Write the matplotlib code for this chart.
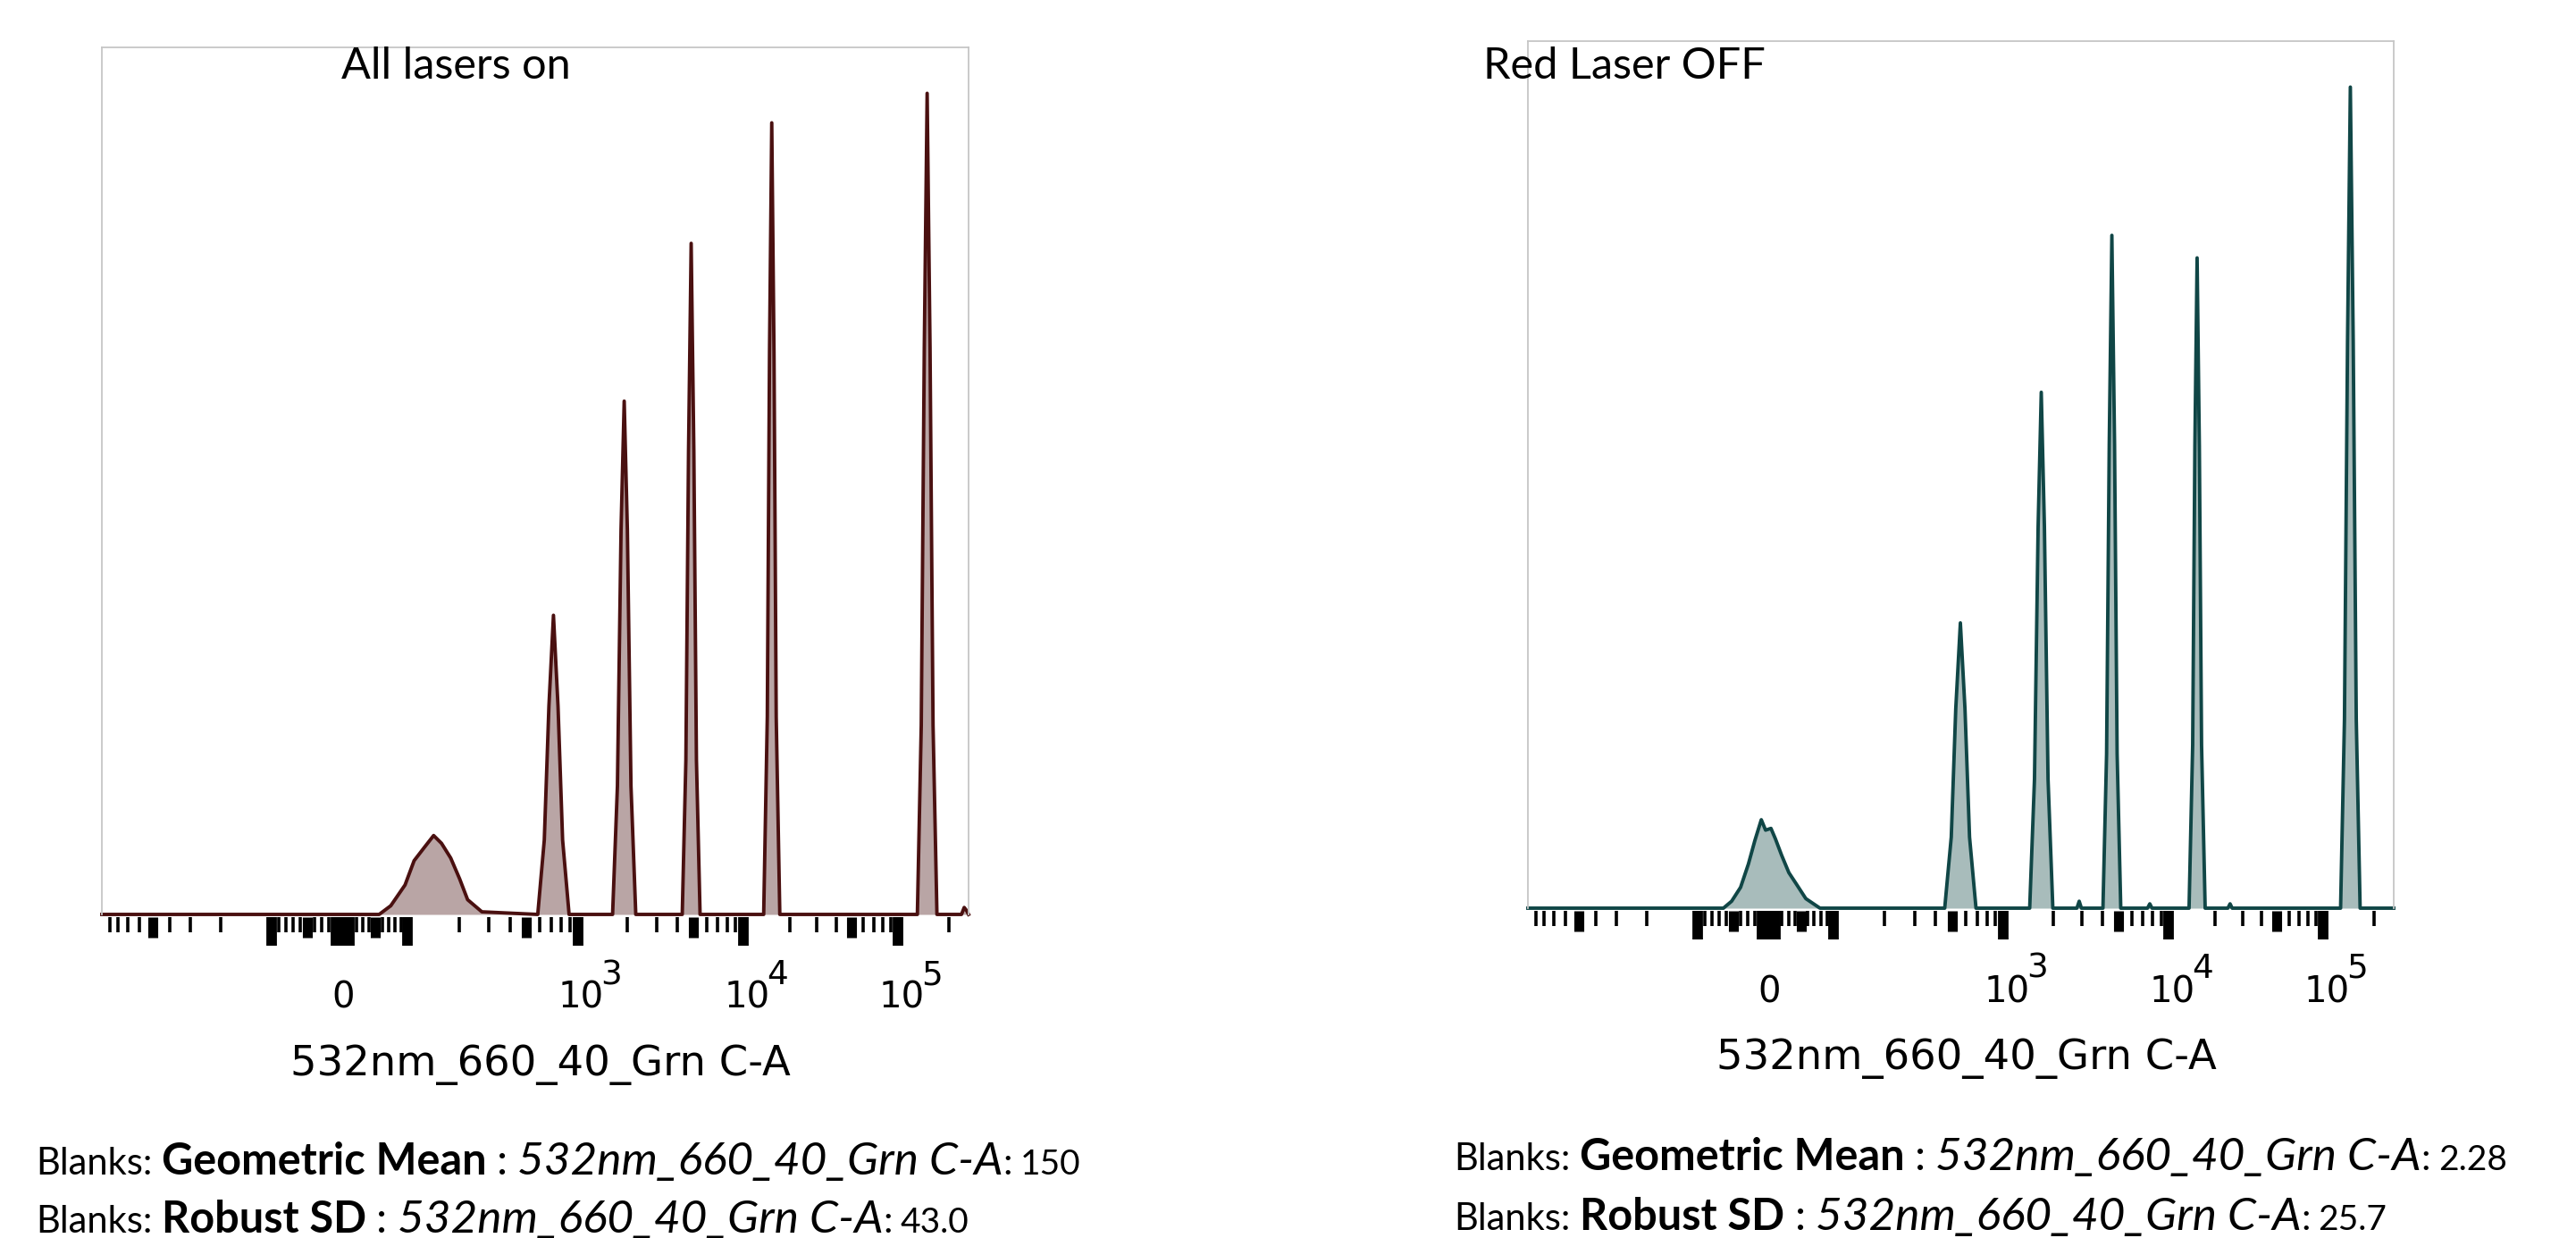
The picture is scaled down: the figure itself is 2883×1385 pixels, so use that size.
import numpy as np
import matplotlib
matplotlib.use("Agg")
import matplotlib.pyplot as plt
from matplotlib import transforms

# --- data ---
# histogram outlines: x in channel units, y in % of the plot height
left_peaks_x = [
    [55.6, 73.6, 95.8, 109, 126, 142, 158, 179, 202, 225, 273],       # blanks
    [582, 636, 677, 720, 766, 815, 890],
    [1625, 1738, 1828, 1910, 1996, 2099, 2244],
    [4283, 4506, 4675, 4850, 5034, 5219, 5490],
    [13570, 14320, 14800, 15300, 15820, 16350, 17250],
    [130400, 137500, 143300, 149000, 155000, 161500, 170300],
    [238000, 247000, 256000],
]
left_peaks_y = [
    [0, 1.0, 3.4, 6.2, 7.8, 9.1, 8.2, 6.5, 4.1, 1.7, 0.3],
    [0, 8.6, 24.0, 34.5, 24.0, 8.6, 0],
    [0, 14.8, 44.4, 59.2, 44.4, 14.8, 0],
    [0, 17.8, 53.4, 77.4, 53.4, 17.8, 0],
    [0, 22.8, 64.8, 91.3, 64.8, 22.8, 0],
    [0, 21.8, 65.3, 94.7, 65.3, 21.8, 0],
    [0, 0.8, 0.4],
]
right_peaks_x = [
    [-64, -52.5, -40, -29, -20, -11, -5, 2.8, 9.7, 19.4, 30.6, 43, 57, 71, 79],
    [452, 494, 525, 559, 595, 633, 691],
    [1445, 1545, 1625, 1698, 1774, 1866, 1995],
    [2790, 2880, 2970],
    [4009, 4218, 4377, 4540, 4713, 4885, 5139],
    [7460, 7700, 7940],
    [13570, 14320, 14800, 15300, 15820, 16350, 17250],
    [24200, 25000, 25800],
    [126900, 133800, 139500, 145000, 150800, 157200, 165700],
]
right_peaks_y = [
    [0, 0.8, 2.4, 5.1, 7.8, 10.2, 9.0, 9.2, 8.0, 6.1, 4.1, 2.7, 1.1, 0.4, 0],
    [0, 8.2, 23.0, 32.9, 23.0, 8.2, 0],
    [0, 14.9, 44.0, 59.5, 44.0, 14.9, 0],
    [0, 0.8, 0],
    [0, 17.8, 53.5, 77.6, 53.5, 17.8, 0],
    [0, 0.5, 0],
    [0, 18.8, 53.3, 75.0, 53.3, 18.8, 0],
    [0, 0.5, 0],
    [0, 21.8, 65.3, 94.7, 65.3, 21.8, 0],
]

x_min, x_max = -1000, 262144
label_values = [0, 1e3, 1e4, 1e5]
label_exps = [None, "3", "4", "5"]
xlabel = "532nm_660_40_Grn C-A"
titles = ["All lasers on", "Red Laser OFF"]
stat_param = "532nm_660_40_Grn C-A"
left_stats = ["150", "43.0"]
right_stats = ["2.28", "25.7"]

# --- logicle-like axis (linear near 0, log further out) ---
G_ANCH = np.array([-2, -1, 0, 1, 2, 3, 4, 1 + np.log10(2621.44)])
P_ANCH = np.array([115, 305, 385, 457, 647, 832, 1005, 1084], dtype=float)


def _g(x):
    x = np.asarray(x, dtype=float)
    a = np.maximum(np.abs(x), 1e-12)
    return np.where(a <= 100, x / 100, np.sign(x) * (1 + np.log10(a / 100)))


def _ginv(g):
    g = np.asarray(g, dtype=float)
    return np.where(np.abs(g) <= 1, g * 100,
                    np.sign(g) * 100 * 10 ** (np.abs(g) - 1))


def forward(x):
    return np.interp(_g(x), G_ANCH, P_ANCH)


def inverse(p):
    return _ginv(np.interp(p, P_ANCH, G_ANCH))


W, H = 2883, 1385
fig = plt.figure(figsize=(W / 100, H / 100), dpi=100)

calibri = ["Lato", "DejaVu Sans"]

ax_l = fig.add_axes([114 / W, (H - 1023) / H, 970 / W, 970 / H])
ax_r = fig.add_axes([1710 / W, (H - 1016) / H, 969 / W, 970 / H])


def draw_panel(ax, px, py, line_col, fill_col):
    xs = [x_min]
    ys = [0]
    for a, b in zip(px, py):
        xs += a
        ys += b
    xs.append(x_max)
    ys.append(0)
    ax.set_xscale("function", functions=(forward, inverse))
    ax.fill_between(xs, ys, 0, color=fill_col, lw=0)
    ax.plot(xs, ys, color=line_col, lw=2.8, clip_on=False, solid_joinstyle="round")
    ax.set_xlim(x_min, x_max)
    ax.set_ylim(0, 100)
    ax.set_xticks([])
    ax.set_yticks([])
    for s in ["left", "top", "right"]:
        ax.spines[s].set_color("#c6c6c6")
        ax.spines[s].set_linewidth(1.3)
    ax.spines["bottom"].set_visible(False)

    # tick marks: 1x10^n long, 5x10^n medium, others short
    trans = ax.get_xaxis_transform()
    short, medium, long_ = [], [], []
    for sgn in (-1, 1):
        for d in range(0, 6):
            for m in range(1, 10):
                v = sgn * m * 10 ** d
                if not (x_min < v < x_max):
                    continue
                if m == 1:
                    long_.append(v)
                elif m == 5:
                    medium.append(v)
                else:
                    short.append(v)
    top = -3 / 970
    ax.vlines(short, -20 / 970, top, transform=trans, colors="black",
              linewidth=2.6, clip_on=False, capstyle="butt")
    ax.vlines(medium, -26 / 970, top, transform=trans, colors="black",
              linewidth=8.0, clip_on=False, capstyle="butt")
    ax.vlines(long_, -35 / 970, top, transform=trans, colors="black",
              linewidth=8.5, clip_on=False, capstyle="butt")

    # tick labels
    for v, e in zip(label_values, label_exps):
        if e is None:
            t = transforms.offset_copy(trans, fig=fig, x=0, y=-105, units="dots")
            ax.text(v, 0, "0", transform=t, ha="center", va="baseline",
                    fontsize=29, family="DejaVu Sans", clip_on=False)
        else:
            t = transforms.offset_copy(trans, fig=fig, x=4, y=-105, units="dots")
            ax.text(v, 0, "10", transform=t, ha="center", va="baseline",
                    fontsize=29, family="DejaVu Sans", clip_on=False)
            t2 = transforms.offset_copy(trans, fig=fig, x=26, y=-78, units="dots")
            ax.text(v, 0, e, transform=t2, ha="left", va="baseline",
                    fontsize=27, family="DejaVu Sans", clip_on=False)

    ax.text(0.5 + 6 / 970, -180 / 970, xlabel, transform=ax.transAxes,
            ha="center", va="baseline", fontsize=33.5, family="DejaVu Sans")


draw_panel(ax_l, left_peaks_x, left_peaks_y, "#4a1010", "#b9a5a5")
draw_panel(ax_r, right_peaks_x, right_peaks_y, "#104646", "#a8bcbb")

# panel titles
fig.text(382 / W, 1 - 88 / H, titles[0], ha="left", va="baseline",
         fontsize=35, family=calibri)
fig.text(1660 / W, 1 - 88 / H, titles[1], ha="left", va="baseline",
         fontsize=35, family=calibri)

# statistics lines with mixed styles
renderer = fig.canvas.get_renderer()


def rich_line(x_px, base_px, pieces):
    x = x_px
    for s, props, gap in pieces:
        t = fig.text(x / W, 1 - base_px / H, s, ha="left", va="baseline",
                     family=calibri, **props)
        bb = t.get_window_extent(renderer)
        x += bb.width + gap


def stat_pieces(name, value):
    return [
        ("Blanks:", dict(fontsize=30), 11),
        (name, dict(fontsize=35, fontweight="bold"), 11),
        (":", dict(fontsize=35), 11),
        (stat_param, dict(fontsize=37, style="italic"), 0),
        (":", dict(fontsize=30), 9),
        (value, dict(fontsize=28), 0),
    ]


rich_line(40, 1314, stat_pieces("Geometric Mean", left_stats[0]))
rich_line(40, 1379, stat_pieces("Robust SD", left_stats[1]))
rich_line(1627, 1309, stat_pieces("Geometric Mean", right_stats[0]))
rich_line(1627, 1376, stat_pieces("Robust SD", right_stats[1]))

fig.savefig("out.png", dpi=100, facecolor="white")
